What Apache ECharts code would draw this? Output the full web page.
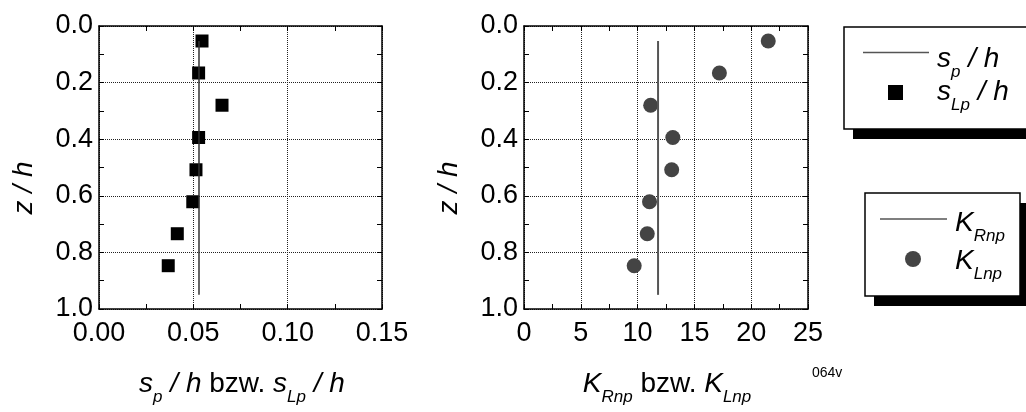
<!DOCTYPE html>
<html>
<head>
<meta charset="utf-8">
<script src="https://cdn.jsdelivr.net/npm/echarts@6/dist/echarts.min.js"></script>
<style>
html,body{margin:0;padding:0;background:#fff;}
#c{width:1026px;height:412px;}
</style>
</head>
<body>
<div id="c"></div>
<script>
// ---- data ----
const zPos = [0.053, 0.166, 0.280, 0.394, 0.508, 0.621, 0.734, 0.847];   // z / h
const sLp  = [0.0546, 0.0528, 0.0652, 0.0528, 0.0514, 0.0497, 0.0415, 0.0367]; // s_Lp / h
const KLnp = [21.5, 17.2, 11.15, 13.1, 13.0, 11.05, 10.85, 9.7];            // K_Lnp
const spValue = 0.053;      // s_p / h (constant)
const KRnpValue = 11.8;     // K_Rnp (constant)
const refLineZ = [0.053, 0.95]; // extent of the constant lines in z / h
const xRangeLeft = [0, 0.15, 0.05];
const xRangeRight = [0, 25, 5];
const yRange = [0, 1, 0.2];

const FONT = 'Liberation Sans, Arial, Helvetica, sans-serif';
const chart = echarts.init(document.getElementById('c'), null, {renderer: 'canvas'});

function baseAxis(extra) {
  return Object.assign({
    type: 'value',
    axisLine: {show: true, onZero: false, lineStyle: {color: '#000', width: 1.5}},
    axisTick: {show: true, inside: true, length: 5, lineStyle: {color: '#000', width: 1}},
    minorTick: {show: true, splitNumber: 2, length: 5, lineStyle: {color: '#000', width: 1}},
    splitLine: {show: true, lineStyle: {type: 'dotted', color: '#333', width: 1}},
    minorSplitLine: {show: false},
    axisLabel: {show: true, fontSize: 27, color: '#000', fontFamily: FONT}
  }, extra);
}

function xAx(grid, r, pos, labels, digits) {
  return baseAxis({
    gridIndex: grid, position: pos, min: r[0], max: r[1], interval: r[2],
    axisLabel: {show: labels, fontSize: 27, color: '#000', fontFamily: FONT, margin: 11,
      formatter: v => v.toFixed(digits)},
    splitLine: {show: labels, lineStyle: {type: 'dotted', color: '#222', width: 1}}
  });
}
function yAx(grid, pos, labels) {
  return baseAxis({
    gridIndex: grid, position: pos, inverse: true, min: yRange[0], max: yRange[1], interval: yRange[2],
    axisLabel: {show: labels, fontSize: 27, color: '#000', fontFamily: FONT, margin: 6,
      formatter: v => v.toFixed(1)},
    splitLine: {show: labels, lineStyle: {type: 'dotted', color: '#222', width: 1}}
  });
}

const mainStyle = {fontSize: 28, fontFamily: FONT, fontStyle: 'italic', color: '#000', height: 32, verticalAlign: 'top'};
const uprStyle = {fontSize: 28, fontFamily: FONT, color: '#000', height: 32, verticalAlign: 'top'};
const subStyle = {fontSize: 17, fontFamily: FONT, fontStyle: 'italic', color: '#000', height: 18, verticalAlign: 'top', padding: [20, 0, 0, 0]};
const rich = {i: mainStyle, n: uprStyle, s: subStyle};

function richText(x, y, text, align, extra) {
  return Object.assign({
    type: 'text', x: x, y: y, silent: true,
    style: {text: text, rich: rich, textAlign: align || 'left', textVerticalAlign: 'top', verticalAlign: 'top', fill: '#000'}
  }, extra || {});
}

const graphics = [
  // axis titles
  richText(242, 368, '{i|s}{s|p}{i| / h}{n| bzw. }{i|s}{s|Lp}{i| / h}', 'center'),
  richText(667, 368, '{i|K}{s|Rnp}{n| bzw. }{i|K}{s|Lnp}', 'center'),
  {type: 'text', x: 24, y: 188, rotation: Math.PI / 2, silent: true,
    style: {text: 'z / h', font: 'italic 28px ' + FONT, fill: '#000', textAlign: 'center', textVerticalAlign: 'middle', verticalAlign: 'middle'}},
  {type: 'text', x: 449, y: 188, rotation: Math.PI / 2, silent: true,
    style: {text: 'z / h', font: 'italic 28px ' + FONT, fill: '#000', textAlign: 'center', textVerticalAlign: 'middle', verticalAlign: 'middle'}},
  {type: 'text', x: 812, y: 366, silent: true,
    style: {text: '064v', font: '14px ' + FONT, fill: '#000'}},
  // legend box 1
  {type: 'rect', shape: {x: 853, y: 37, width: 200, height: 102}, style: {fill: '#000'}, silent: true},
  {type: 'rect', shape: {x: 844, y: 27, width: 200, height: 102}, style: {fill: '#fff', stroke: '#000', lineWidth: 1.5}, silent: true},
  {type: 'line', shape: {x1: 863, y1: 52.5, x2: 929, y2: 52.5}, style: {stroke: '#555', lineWidth: 1.5}, silent: true},
  {type: 'rect', shape: {x: 888, y: 85, width: 15, height: 15}, style: {fill: '#000'}, silent: true},
  richText(937, 43, '{i|s}{s|p}{i| / h}', 'left'),
  richText(937, 76, '{i|s}{s|Lp}{i| / h}', 'left'),
  // legend box 2
  {type: 'rect', shape: {x: 874, y: 203, width: 155, height: 103}, style: {fill: '#000'}, silent: true},
  {type: 'rect', shape: {x: 865, y: 193, width: 155, height: 103}, style: {fill: '#fff', stroke: '#000', lineWidth: 1.5}, silent: true},
  {type: 'line', shape: {x1: 880, y1: 219, x2: 947, y2: 219}, style: {stroke: '#555', lineWidth: 1.5}, silent: true},
  {type: 'circle', shape: {cx: 913, cy: 259, r: 8}, style: {fill: '#444'}, silent: true},
  richText(955, 207, '{i|K}{s|Rnp}', 'left'),
  richText(955, 245, '{i|K}{s|Lnp}', 'left')
];

const option = {
  animation: false,
  backgroundColor: '#fff',
  grid: [
    {left: 99, top: 26, width: 283, height: 283, containLabel: false, outerBoundsMode: 'none'},
    {left: 524, top: 26, width: 284, height: 283, containLabel: false, outerBoundsMode: 'none'}
  ],
  xAxis: [
    xAx(0, xRangeLeft, 'bottom', true, 2),
    xAx(0, xRangeLeft, 'top', false, 2),
    xAx(1, xRangeRight, 'bottom', true, 0),
    xAx(1, xRangeRight, 'top', false, 0)
  ],
  yAxis: [
    yAx(0, 'left', true),
    yAx(0, 'right', false),
    yAx(1, 'left', true),
    yAx(1, 'right', false)
  ],
  series: [
    {type: 'line', xAxisIndex: 0, yAxisIndex: 0, symbol: 'none', silent: true,
      lineStyle: {color: '#333', width: 1.5},
      data: refLineZ.map(z => [spValue, z])},
    {type: 'scatter', xAxisIndex: 0, yAxisIndex: 0, symbol: 'rect', symbolSize: 13,
      itemStyle: {color: '#000', opacity: 1},
      data: zPos.map((z, i) => [sLp[i], z])},
    {type: 'line', xAxisIndex: 2, yAxisIndex: 2, symbol: 'none', silent: true,
      lineStyle: {color: '#555', width: 2},
      data: refLineZ.map(z => [KRnpValue, z])},
    {type: 'scatter', xAxisIndex: 2, yAxisIndex: 2, symbol: 'circle', symbolSize: 15,
      itemStyle: {color: '#444', opacity: 1},
      data: zPos.map((z, i) => [KLnp[i], z])}
  ],
  graphic: graphics
};
chart.setOption(option);
</script>
</body>
</html>
